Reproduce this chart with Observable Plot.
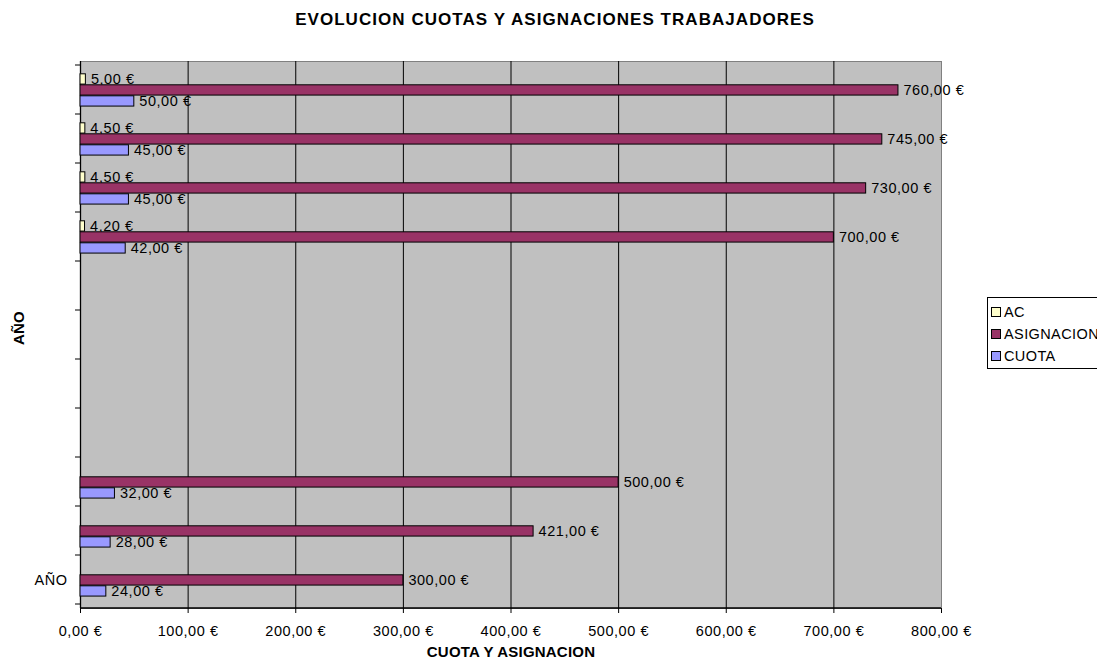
<!DOCTYPE html>
<html>
<head>
<meta charset="utf-8">
<script src="https://cdn.jsdelivr.net/npm/d3@7"></script>
<script src="https://cdn.jsdelivr.net/npm/@observablehq/plot@0.6"></script>
<style>
  html, body { margin: 0; padding: 0; background: #fff; overflow: hidden; }
  #wrap { position: relative; width: 1097px; height: 663px; font-family: "Liberation Sans", Arial, sans-serif; }
  #title { position: absolute; left: 0; top: 10px; width: 1110px; text-align: center; font-weight: bold; font-size: 17px; letter-spacing: 1.05px; color: #000; }
  #legend { position: absolute; left: 987px; top: 297px; width: 130px; height: 72px; border: 1px solid #000; background: #fff; box-sizing: border-box; font-size: 14.5px; letter-spacing: 0.4px; }
  #legend .item { position: absolute; left: 3px; height: 18px; line-height: 18px; white-space: nowrap; }
  #legend .sw { display: inline-block; width: 8px; height: 8px; border: 1px solid #000; margin-right: 3px; vertical-align: 0px; }
  svg text { letter-spacing: 0.55px; }
  svg [aria-label="axis-title"] { font-weight: bold; letter-spacing: 0.2px; font-size: 15px; }
</style>
</head>
<body>
<div id="wrap">
  <div id="title">EVOLUCION CUOTAS Y ASIGNACIONES TRABAJADORES</div>
  <div id="chart"></div>
  <div id="legend"></div>
</div>
<script>
// ---- data (bottom category first) ----
const categories = ["AÑO", "cat2", "cat3", "cat4", "cat5", "cat6", "cat7", "cat8", "cat9", "cat10", "cat11"];
const categoryLabels = ["AÑO", "", "", "", "", "", "", "", "", "", ""];
const seriesNames = ["AC", "ASIGNACION", "CUOTA"];
const acValues = [null, null, null, null, null, null, null, 4.20, 4.50, 4.50, 5.00];
const asignacionValues = [300, 421, 500, null, null, null, null, 700, 730, 745, 760];
const cuotaValues = [24, 28, 32, null, null, null, null, 42, 45, 45, 50];
const seriesColors = ["#FFFFCC", "#993366", "#9999FF"];
const xTicks = [0, 100, 200, 300, 400, 500, 600, 700, 800];

const valuesBySeries = { AC: acValues, ASIGNACION: asignacionValues, CUOTA: cuotaValues };
const rows = [];
for (const s of seriesNames) {
  categories.forEach((c, i) => {
    const v = valuesBySeries[s][i];
    if (v != null) rows.push({ category: c, series: s, value: v });
  });
}

// ---- layout ----
const W = 1097, H = 663, mL = 80, mR = 156, mT = 61, mB = 55;
const bw = (H - mT - mB) / categories.length;
const barH = 11, groupTop = 8.8;
const fmt = v => v.toFixed(2).replace(".", ",") + " €";

const marks = [
  Plot.frame({ fill: "#C0C0C0", stroke: "#808080" }),
  Plot.ruleX(xTicks.filter(t => t > 0 && t < 800), { stroke: "#000", strokeWidth: 1 }),
  Plot.ruleX([0], { stroke: "#000", strokeWidth: 1.3 })
];
seriesNames.forEach((s, k) => {
  const top = groupTop + k * barH;
  const data = rows.filter(r => r.series === s);
  marks.push(Plot.barX(data, {
    x: "value", y: "category", fill: seriesColors[k], stroke: "#000", strokeWidth: 1,
    insetTop: top, insetBottom: bw - top - barH
  }));
  marks.push(Plot.text(data, {
    x: "value", y: "category", text: d => fmt(d.value), textAnchor: "start",
    dx: 5, dy: top + barH / 2 - bw / 2, fill: "#000"
  }));
});
marks.push(
  Plot.axisX({ ticks: xTicks, tickFormat: fmt, tickSize: 5, tickPadding: 12, label: null }),
  Plot.axisY({ tickSize: 0, tickPadding: 13, tickFormat: c => categoryLabels[categories.indexOf(c)], label: null }),
  Plot.text(["CUOTA Y ASIGNACION"], { frameAnchor: "bottom", dy: 48, text: d => d, ariaLabel: () => "axis-title" }),
  Plot.text(["AÑO"], { frameAnchor: "left", dx: -61, dy: 10, rotate: -90, text: d => d, ariaLabel: () => "axis-title" })
);

const plot = Plot.plot({
  width: W, height: H,
  marginLeft: mL, marginRight: mR, marginTop: mT, marginBottom: mB,
  style: { fontFamily: "'Liberation Sans', Arial, sans-serif", fontSize: "14.5px", color: "#000", background: "transparent", overflow: "visible" },
  x: { domain: [0, 800], label: null },
  y: { domain: categories.slice().reverse(), padding: 0, label: null },
  marks
});
document.getElementById("chart").appendChild(plot);

// boundary ticks on the category axis and bottom axis line, from Plot's y scale
const ys = plot.scale("y");
const svg = d3.select(plot);
const bounds = categories.map(c => ys.apply(c));
bounds.push(ys.apply(categories[0]) + ys.bandwidth);
const g = svg.append("g").attr("aria-label", "y-boundary-ticks");
bounds.forEach(y => {
  g.append("line").attr("x1", mL - 5).attr("x2", mL).attr("y1", y).attr("y2", y).attr("stroke", "#000");
});
g.append("line").attr("x1", mL).attr("x2", W - mR).attr("y1", H - mB).attr("y2", H - mB).attr("stroke", "#000").attr("stroke-width", 1.3);

// legend
const legend = document.getElementById("legend");
seriesNames.forEach((s, k) => {
  const div = document.createElement("div");
  div.className = "item";
  div.style.top = (5 + k * 22) + "px";
  div.innerHTML = `<span class="sw" style="background:${seriesColors[k]}"></span>${s}`;
  legend.appendChild(div);
});
</script>
</body>
</html>
